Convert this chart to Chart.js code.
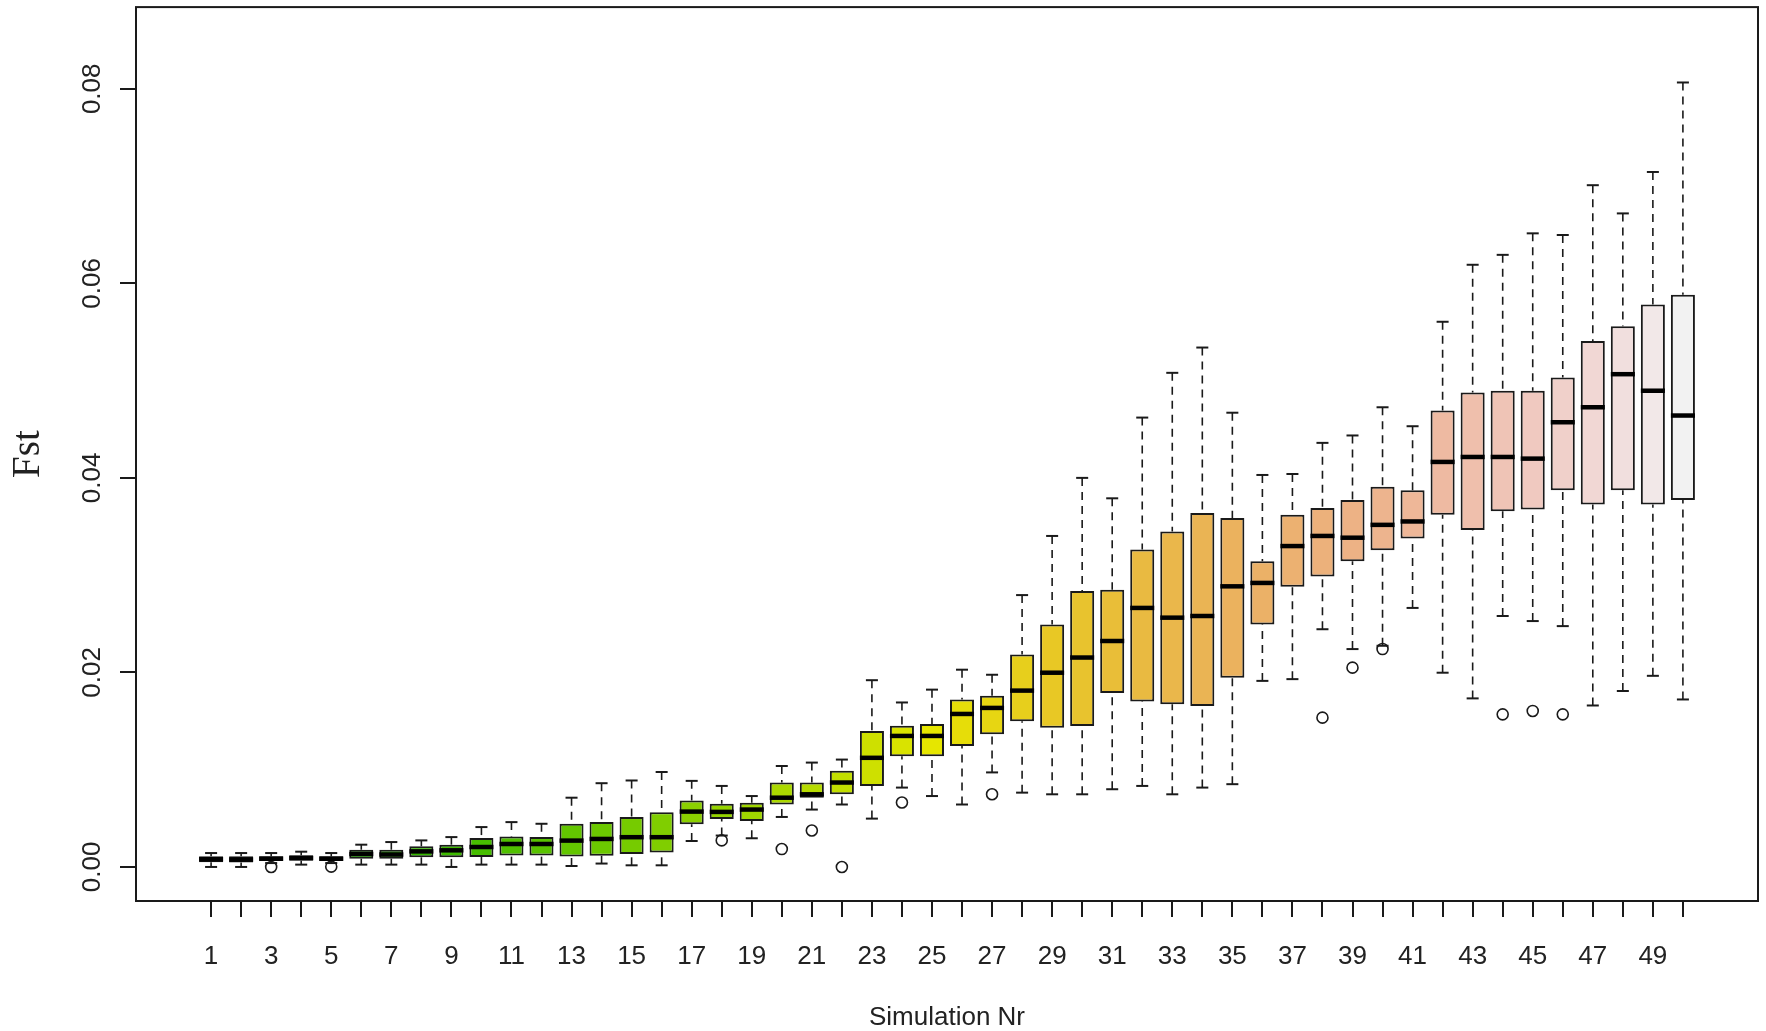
<!DOCTYPE html>
<html>
<head>
<meta charset="utf-8">
<script src="https://cdn.jsdelivr.net/npm/chart.js@4/dist/chart.umd.min.js"></script>
<style>
html,body{margin:0;padding:0;background:#ffffff;}
#wrap{width:1766px;height:1031px;position:relative;}
</style>
</head>
<body>
<div id="wrap"><canvas id="c" width="1766" height="1031"></canvas></div>
<script>
// ---- data ----
const simulations = [1,2,3,4,5,6,7,8,9,10,11,12,13,14,15,16,17,18,19,20,21,22,23,24,25,26,27,28,29,30,31,32,33,34,35,36,37,38,39,40,41,42,43,44,45,46,47,48,49,50];
const whiskerLow = [0.00000,0.00000,0.00040,0.00024,0.00040,0.00024,0.00024,0.00024,0.00000,0.00024,
  0.00024,0.00024,0.00010,0.00035,0.00017,0.00017,0.00267,0.00323,0.00295,0.00514,
  0.00590,0.00642,0.00497,0.00816,0.00729,0.00642,0.00972,0.00764,0.00747,0.00747,
  0.00799,0.00833,0.00747,0.00816,0.00851,0.01913,0.01931,0.02444,0.02240,0.02274,
  0.02663,0.01997,0.01733,0.02580,0.02528,0.02476,0.01660,0.01809,0.01965,0.01722];
const quartile1 = [0.00048,0.00045,0.00060,0.00065,0.00060,0.00085,0.00085,0.00099,0.00099,0.00102,
  0.00119,0.00119,0.00108,0.00115,0.00132,0.00149,0.00438,0.00493,0.00472,0.00642,
  0.00712,0.00747,0.00833,0.01139,0.01139,0.01243,0.01365,0.01497,0.01431,0.01448,
  0.01788,0.01701,0.01674,0.01656,0.01944,0.02493,0.02882,0.02986,0.03142,0.03257,
  0.03378,0.03622,0.03465,0.03656,0.03674,0.03874,0.03726,0.03874,0.03726,0.03772];
const medians = [0.00079,0.00076,0.00085,0.00092,0.00085,0.00133,0.00128,0.00160,0.00171,0.00205,
  0.00236,0.00236,0.00271,0.00288,0.00306,0.00306,0.00569,0.00566,0.00590,0.00712,
  0.00747,0.00868,0.01122,0.01347,0.01347,0.01573,0.01635,0.01813,0.01997,0.02153,
  0.02323,0.02663,0.02563,0.02580,0.02885,0.02920,0.03299,0.03403,0.03385,0.03517,
  0.03552,0.04164,0.04215,0.04215,0.04198,0.04572,0.04726,0.05066,0.04896,0.04641];
const quartile3 = [0.00109,0.00109,0.00109,0.00120,0.00109,0.00177,0.00177,0.00212,0.00229,0.00297,
  0.00314,0.00307,0.00444,0.00462,0.00514,0.00563,0.00684,0.00649,0.00660,0.00868,
  0.00868,0.00990,0.01399,0.01451,0.01469,0.01722,0.01760,0.02184,0.02493,0.02837,
  0.02851,0.03264,0.03448,0.03639,0.03587,0.03142,0.03622,0.03691,0.03772,0.03908,
  0.03874,0.04692,0.04879,0.04896,0.04896,0.05032,0.05407,0.05560,0.05782,0.05884];
const whiskerHigh = [0.00143,0.00143,0.00143,0.00157,0.00143,0.00229,0.00256,0.00273,0.00307,0.00410,
  0.00461,0.00444,0.00712,0.00861,0.00889,0.00976,0.00885,0.00833,0.00729,0.01038,
  0.01073,0.01104,0.01920,0.01691,0.01823,0.02028,0.01976,0.02795,0.03403,0.04000,
  0.03790,0.04620,0.05080,0.05340,0.04670,0.04030,0.04040,0.04360,0.04436,0.04726,
  0.04531,0.05605,0.06191,0.06293,0.06514,0.06497,0.07009,0.06719,0.07145,0.08065];
const outlierSim = [3,5,18,20,21,22,24,27,38,39,40,44,45,46];
const outlierFst = [0.00000,0.00003,0.00273,0.00184,0.00375,0.00000,0.00663,0.00747,0.01535,0.02049,0.02240,0.01569,0.01604,0.01569];
const xTickValues = simulations;
const yTickValues = [0, 0.02, 0.04, 0.06, 0.08];
const yTickLabels = ['0.00', '0.02', '0.04', '0.06', '0.08'];
const xTitle = 'Simulation Nr';
const yTitle = 'Fst';

// ---- styling (terrain palette, one colour per box) ----
const boxColors = ['#00A600','#07A800','#0EAB00','#16AE00','#1DB000','#25B300','#2DB600','#36B800','#3EBB00','#47BE00',
  '#50C000','#59C300','#63C600','#6CC800','#76CB00','#80CE00','#8BD000','#95D300','#A0D600','#ABD800',
  '#B6DB00','#C2DE00','#CEE000','#D9E300','#E6E600','#E6DD09','#E7D612','#E7CF1C','#E8C825','#E8C32E',
  '#E9BE38','#E9BA41','#EAB74B','#EAB454','#EBB25E','#EBB167','#ECB171','#ECB17B','#EDB285','#EDB48E',
  '#EEB798','#EEBAA2','#EFBFAC','#EFC4B6','#F0C9C0','#F0D0CA','#F1D7D4','#F1DFDE','#F2E8E8','#F2F2F2'];

const INK = '#1a1a1a';

const boxParts = {
  id: 'boxParts',
  afterDatasetsDraw(chart) {
    const ctx = chart.ctx;
    const xs = chart.scales.x, ys = chart.scales.y;
    const meta = chart.getDatasetMeta(0);
    const line = (x1, y1, x2, y2) => { ctx.beginPath(); ctx.moveTo(x1, y1); ctx.lineTo(x2, y2); ctx.stroke(); };
    ctx.save();
    ctx.strokeStyle = INK;
    meta.data.forEach((bar, i) => {
      const cx = xs.getPixelForValue(simulations[i]);
      const half = bar.width / 2;
      const capHalf = xs.getPixelForValue(simulations[i] + 0.2) - cx;
      const yLo = ys.getPixelForValue(whiskerLow[i]);
      const yQ1 = ys.getPixelForValue(quartile1[i]);
      const yMed = ys.getPixelForValue(medians[i]);
      const yQ3 = ys.getPixelForValue(quartile3[i]);
      const yHi = ys.getPixelForValue(whiskerHigh[i]);
      ctx.lineCap = 'butt';
      ctx.setLineDash([8, 6]);
      ctx.lineWidth = 1.6;
      line(cx, yHi, cx, yQ3);
      line(cx, yLo, cx, yQ1);
      ctx.setLineDash([]);
      ctx.lineWidth = 2;
      line(cx - capHalf, yHi, cx + capHalf, yHi);
      line(cx - capHalf, yLo, cx + capHalf, yLo);
      ctx.lineWidth = 4.5;
      ctx.strokeStyle = '#000';
      line(cx - half, yMed, cx + half, yMed);
      ctx.strokeStyle = INK;
    });
    ctx.restore();
  },
  afterDraw(chart) {
    const a = chart.chartArea, ctx = chart.ctx;
    ctx.save();
    ctx.strokeStyle = INK;
    ctx.lineWidth = 2;
    ctx.strokeRect(a.left, a.top, a.right - a.left, a.bottom - a.top);
    ctx.restore();
  }
};

const tickFont = { family: "'Liberation Sans', Arial, sans-serif", size: 26 };

new Chart(document.getElementById('c'), {
  type: 'bar',
  data: {
    datasets: [
      {
        label: 'Fst',
        data: simulations.map((s, i) => ({ x: s, y: [quartile1[i], quartile3[i]] })),
        backgroundColor: boxColors,
        borderColor: INK,
        borderWidth: 2,
        borderSkipped: false,
        categoryPercentage: 1,
        barPercentage: 0.8
      },
      {
        type: 'scatter',
        label: 'outliers',
        data: outlierSim.map((s, k) => ({ x: s, y: outlierFst[k] })),
        pointStyle: 'circle',
        pointRadius: 5.5,
        pointBorderWidth: 1.6,
        borderColor: INK,
        backgroundColor: 'rgba(0,0,0,0)',
        showLine: false
      }
    ]
  },
  options: {
    responsive: false,
    animation: false,
    devicePixelRatio: 1,
    layout: { padding: { top: 4, right: 8, left: 0, bottom: 0 } },
    plugins: { legend: { display: false }, tooltip: { enabled: false } },
    scales: {
      x: {
        type: 'linear',
        position: 'bottom',
        min: -1.5,
        max: 52.5,
        offset: false,
        afterFit: (s) => { s.height = 130; s.paddingLeft = 0; s.paddingRight = 0; },
        afterBuildTicks: (s) => { s.ticks = xTickValues.map(v => ({ value: v })); },
        ticks: {
          autoSkip: false,
          maxRotation: 0,
          minRotation: 0,
          padding: 24,
          color: '#222',
          font: tickFont,
          callback: (v, idx) => (xTickValues[idx] % 2 === 1 ? String(xTickValues[idx]) : '')
        },
        grid: { display: true, offset: false, drawOnChartArea: false, drawTicks: true, tickLength: 16, color: INK, lineWidth: 2 },
        border: { display: false },
        title: { display: true, text: xTitle, color: '#222', font: { family: "'Liberation Sans', Arial, sans-serif", size: 26, lineHeight: 1.2 }, padding: { top: 0, bottom: -2 } }
      },
      y: {
        type: 'linear',
        position: 'left',
        min: -0.0035,
        max: 0.0884,
        afterFit: (s) => { s.width = 136; s.paddingTop = 0; s.paddingBottom = 0; },
        afterBuildTicks: (s) => { s.ticks = yTickValues.map(v => ({ value: v })); },
        ticks: {
          minRotation: 90,
          maxRotation: 90,
          crossAlign: 'center',
          padding: 2,
          color: '#222',
          font: tickFont,
          callback: (v, idx) => yTickLabels[idx]
        },
        grid: { display: true, drawOnChartArea: false, drawTicks: true, tickLength: 16, color: INK, lineWidth: 2 },
        border: { display: false },
        title: { display: true, text: yTitle, color: '#222', font: { family: "'Liberation Serif', 'Times New Roman', serif", size: 39, lineHeight: 1.2 }, padding: { top: 5, bottom: 0 } }
      }
    }
  },
  plugins: [boxParts]
});
</script>
</body>
</html>
